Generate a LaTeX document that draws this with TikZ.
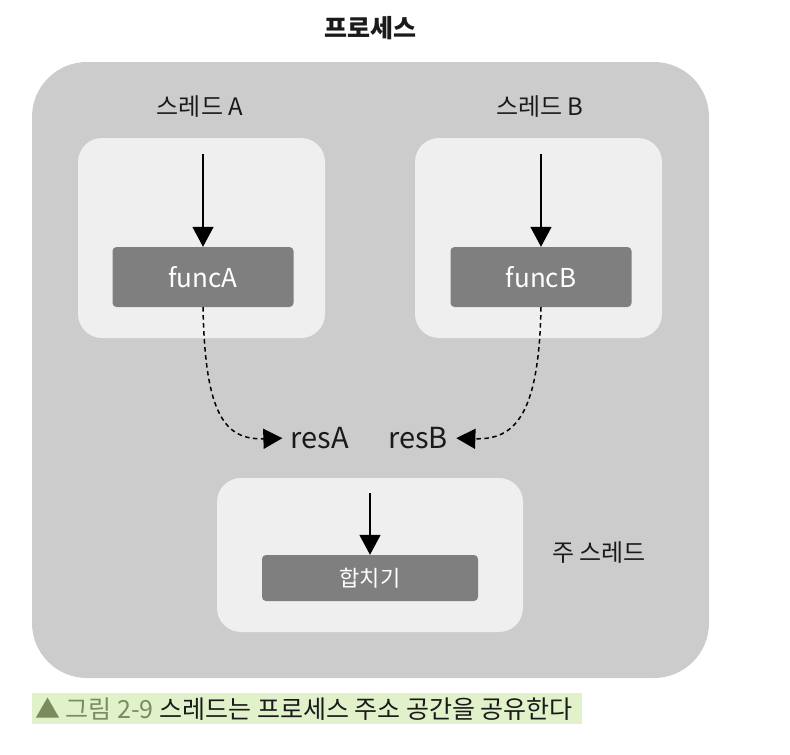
\documentclass[tikz,border=0pt]{standalone}
\usepackage{fontspec}
\setmainfont{Noto Sans CJK KR}
\usetikzlibrary{arrows.meta}
\definecolor{procgray}{HTML}{CCCCCC}
\definecolor{threadbg}{HTML}{EFEFEF}
\definecolor{funcgray}{HTML}{7F7F7F}
\definecolor{capbg}{HTML}{E1F2CB}
\definecolor{capgreen}{HTML}{7A8C5E}
\definecolor{txt}{HTML}{1A1A1A}
\begin{document}
\begin{tikzpicture}[x=1pt,y=-1pt,
  proc/.style={fill=procgray,draw=none,rounded corners=55pt},
  threadbox/.style={fill=threadbg,draw=none,rounded corners=24pt},
  funcbox/.style={fill=funcgray,draw=none,rounded corners=4pt,text=white,font=\fontsize{26}{30}\selectfont},
  lbl/.style={text=txt,font=\fontsize{24}{28}\selectfont},
  arr/.style={-{Triangle[length=20pt,width=21pt]},line width=1.5pt,black},
  darr/.style={-{Triangle[length=19pt,width=20pt]},line width=1.5pt,black,dash pattern=on 4.5pt off 3.5pt}]
\useasboundingbox (0,0) rectangle (790,755);
% process
\path[proc] (32,62) rectangle (709,678);
\node[lbl,font=\fontsize{25}{30}\selectfont\bfseries] (title) at (370,28) {프로세스};
% thread A
\path[threadbox] (78,138) rectangle (325,338);
\node[lbl] (tA) at (200,107) {스레드 A};
\node[funcbox,minimum width=181pt,minimum height=60pt] (fA) at (203,277) {funcA};
\coordinate (sA) at (203,154);
\draw[arr] (sA) -- (fA.north);
% thread B
\path[threadbox] (415,138) rectangle (662,338);
\node[lbl] (tB) at (540,107) {스레드 B};
\node[funcbox,minimum width=181pt,minimum height=60pt] (fB) at (541,277) {funcB};
\coordinate (sB) at (541,154);
\draw[arr] (sB) -- (fB.north);
% results
\node[lbl,font=\fontsize{29}{33}\selectfont] (rA) at (320,438) {resA};
\node[lbl,font=\fontsize{29}{33}\selectfont] (rB) at (418,438) {resB};
\draw[darr,shorten >=5pt] (fA.south) .. controls (205,415) and (225,440) .. (rA.west);
\draw[darr,shorten >=5pt] (fB.south) .. controls (539,415) and (515,440) .. (rB.east);
% main thread
\path[threadbox] (217,478) rectangle (523,632);
\node[funcbox,minimum width=216pt,minimum height=46pt,font=\fontsize{22}{26}\selectfont] (merge) at (370,578) {합치기};
\coordinate (sM) at (370,493);
\draw[arr] (sM) -- (merge.north);
\node[lbl] (tM) at (599,553) {주 스레드};
% caption
\fill[capbg] (32,693) rectangle (582,724);
\node[anchor=west,inner sep=0pt,font=\fontsize{25}{29}\selectfont] (cap) at (35,709) {\textcolor{capgreen}{▲ 그림 2‑9} \textcolor{txt}{스레드는 프로세스 주소 공간을 공유한다}};
\end{tikzpicture}
\end{document}
